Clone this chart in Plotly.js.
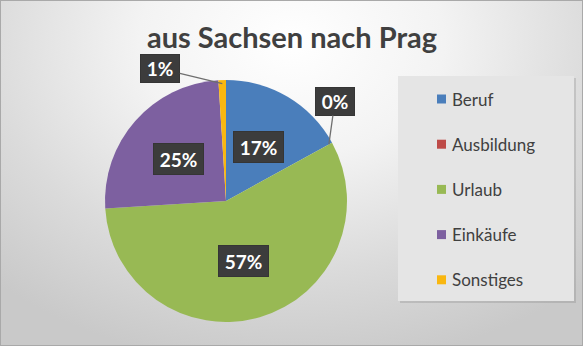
<!DOCTYPE html>
<html>
<head>
<meta charset="utf-8">
<script src="https://cdn.plot.ly/plotly-3.0.1.min.js"></script>
<style>
  html, body { margin:0; padding:0; }
  #chart {
    width:583px; height:346px; box-sizing:border-box;
    border:1px solid #a9a9a9;
    background: radial-gradient(ellipse 75% 95% at 50% 12%, #ffffff 0%, #f3f3f3 35%, #dbdbdb 70%, #c9c9c9 100%);
  }
</style>
</head>
<body>
<div id="chart"></div>
<script>
// ---- data ----
var categories = ["Beruf", "Ausbildung", "Urlaub", "Einkäufe", "Sonstiges"];
var values = [17, 0, 57, 25, 1];
var percentLabels = ["17%", "0%", "57%", "25%", "1%"];
var sliceColors = ["#4a7ebb", "#be4b48", "#98b954", "#7d60a0", "#f9b710"];

// ---- layout constants (style only) ----
var W = 581, H = 344;
var CX = 225, CY = 200, R = 121;          // pie centre / radius in px
var outsideOffsets = { 1: [6, -43], 4: [-62, -15] }; // label box offset for tiny slices (px)

function px2x(px) { return px / W; }
function px2y(py) { return 1 - py / H; }

var total = values.reduce(function (a, b) { return a + b; }, 0);

var trace = {
  type: "pie",
  labels: categories,
  values: values,
  sort: false,
  direction: "clockwise",
  rotation: 0,
  marker: { colors: sliceColors, line: { width: 0 } },
  textinfo: "none",
  hoverinfo: "label+percent",
  showlegend: false,
  domain: { x: [px2x(CX - R), px2x(CX + R)], y: [px2y(CY + R), px2y(CY - R)] }
};

var annotations = [];
var shapes = [];

// data labels computed from the values
var cum = 0;
values.forEach(function (v, i) {
  var mid = (cum + v / 2) / total * 2 * Math.PI;
  cum += v;
  var boxStyle = {
    text: "<b>" + percentLabels[i] + "</b>",
    font: { family: "Lato, 'Open Sans', sans-serif", size: 19, color: "#ffffff" },
    bgcolor: "#3c3c3c",
    bordercolor: "#353535",
    borderwidth: 1,
    width: percentLabels[i].length > 2 ? 47 : 36,
    height: percentLabels[i].length > 2 ? 28 : 25,
    xanchor: "center", yanchor: "middle",
    xref: "paper", yref: "paper"
  };
  if (outsideOffsets[i]) {
    var tipR = R * 0.97;
    boxStyle.x = px2x(CX + tipR * Math.sin(mid));
    boxStyle.y = px2y(CY - tipR * Math.cos(mid));
    boxStyle.showarrow = true;
    boxStyle.arrowhead = 0;
    boxStyle.arrowwidth = 1.3;
    boxStyle.arrowcolor = "#6f6f6f";
    boxStyle.ax = outsideOffsets[i][0];
    boxStyle.ay = outsideOffsets[i][1];
    boxStyle.standoff = 0;
  } else {
    var r = R * 0.52;
    boxStyle.x = px2x(CX + r * Math.sin(mid));
    boxStyle.y = px2y(CY - r * Math.cos(mid));
    boxStyle.showarrow = false;
  }
  annotations.push(boxStyle);
});

// legend (box, colour squares, texts)
var LX0 = 397, LY0 = 75, LX1 = 573, LY1 = 300;
shapes.push({ type: "rect", xref: "paper", yref: "paper",
  x0: px2x(LX0 + 2), x1: px2x(LX1 + 2), y0: px2y(LY1 + 2), y1: px2y(LY0 + 2),
  fillcolor: "rgba(120,120,120,0.25)", line: { width: 0 }, layer: "below" });
shapes.push({ type: "rect", xref: "paper", yref: "paper",
  x0: px2x(LX0), x1: px2x(LX1), y0: px2y(LY1), y1: px2y(LY0),
  fillcolor: "#e5e5e5", line: { width: 0 }, layer: "below" });

var itemY0 = 98, itemGap = 45.2;
categories.forEach(function (c, i) {
  var yc = itemY0 + i * itemGap;
  shapes.push({ type: "rect", xref: "paper", yref: "paper",
    x0: px2x(436), x1: px2x(445), y0: px2y(yc + 4.5), y1: px2y(yc - 4.5),
    fillcolor: sliceColors[i], line: { width: 0 } });
  annotations.push({ text: c, xref: "paper", yref: "paper",
    x: px2x(449), y: px2y(yc), xanchor: "left", yanchor: "middle", showarrow: false,
    font: { family: "Lato, 'Open Sans', sans-serif", size: 17, color: "#404040" } });
});

var layout = {
  width: W, height: H,
  margin: { l: 0, r: 0, t: 0, b: 0 },
  paper_bgcolor: "rgba(0,0,0,0)",
  plot_bgcolor: "rgba(0,0,0,0)",
  title: {
    text: "<b>aus Sachsen nach Prag</b>",
    font: { family: "Lato, 'Open Sans', sans-serif", size: 29, color: "#404040" },
    x: px2x(291), xanchor: "center", y: px2y(37), yanchor: "middle", yref: "paper"
  },
  showlegend: false,
  annotations: annotations,
  shapes: shapes
};

Plotly.newPlot("chart", [trace], layout, { displayModeBar: false, staticPlot: true });
</script>
</body>
</html>
